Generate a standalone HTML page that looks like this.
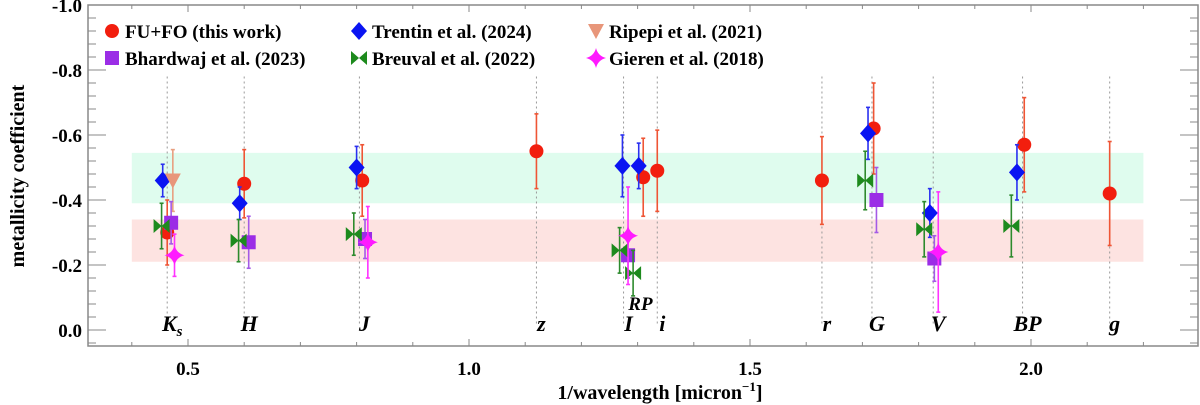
<!DOCTYPE html>
<html><head><meta charset="utf-8">
<style>
body{margin:0;background:#fff;}
svg{display:block;font-family:"Liberation Serif",serif;}
</style></head>
<body>
<svg id="chart" width="1200" height="405" xmlns="http://www.w3.org/2000/svg">
<g id="bands"></g>
<g id="vlines"></g>
<g id="axes"></g>
<g id="marks"></g>
<g id="legend"></g>
</svg>
<script>
const bandNames=["Ks","H","J","z","I","RP","i","r","G","V","BP","g"];
const bandX=[0.463,0.6,0.805,1.12,1.275,1.305,1.335,1.628,1.717,1.826,1.985,2.14];
const xTicks=[0.5,1.0,1.5,2.0];
const yTicks=[0.0,-0.2,-0.4,-0.6,-0.8,-1.0];
const fuX=[0.463,0.6,0.81,1.12,1.31,1.335,1.628,1.72,1.988,2.14];
const fuY=[-0.30,-0.45,-0.46,-0.55,-0.47,-0.49,-0.46,-0.62,-0.57,-0.42];
const fuE=[0.10,0.105,0.11,0.115,0.12,0.125,0.135,0.14,0.145,0.16];
const trX=[0.455,0.592,0.8,1.273,1.302,1.71,1.82,1.975];
const trY=[-0.46,-0.39,-0.50,-0.505,-0.505,-0.605,-0.36,-0.485];
const trE=[0.05,0.05,0.065,0.095,0.07,0.08,0.075,0.085];
const riX=[0.473];
const riY=[-0.46];
const riE=[0.095];
const bhX=[0.47,0.608,0.815,1.283,1.725,1.828];
const bhY=[-0.33,-0.27,-0.28,-0.23,-0.40,-0.22];
const bhE=[0.065,0.08,0.06,0.07,0.10,0.07];
const brX=[0.453,0.59,0.795,1.268,1.292,1.705,1.81,1.965];
const brY=[-0.32,-0.275,-0.295,-0.245,-0.175,-0.46,-0.31,-0.32];
const brE=[0.07,0.065,0.065,0.07,0.07,0.09,0.085,0.095];
const giX=[0.476,0.82,1.283,1.835];
const giY=[-0.23,-0.27,-0.29,-0.24];
const giE=[0.065,0.11,0.15,0.185];
const greenBand=[-0.39,-0.545];
const redBand=[-0.21,-0.34];

const L=88,R=1198,T=5,B=346;
const X=v=>188+(v-0.5)*562;
const Y=v=>330+v*325;
const NS="http://www.w3.org/2000/svg";
function mk(p,t,a){const e=document.createElementNS(NS,t);for(const k in a)e.setAttribute(k,a[k]);p.appendChild(e);return e;}
const g=id=>document.getElementById(id);

let b1=mk(g('bands'),'rect',{x:X(0.4),y:Y(greenBand[1]),width:X(2.2)-X(0.4),height:Y(greenBand[0])-Y(greenBand[1]),fill:'#dffcee'});


let b2=mk(g('bands'),'rect',{x:X(0.4),y:Y(redBand[1]),width:X(2.2)-X(0.4),height:Y(redBand[0])-Y(redBand[1]),fill:'#fde3e1'});



bandNames.forEach((n,i)=>{
  const x=X(bandX[i]);
  if(n!=="RP"){let l=mk(g('vlines'),'line',{x1:x,x2:x,y1:Y(-0.78),y2:Y(-0.02),stroke:'#999','stroke-width':1,'stroke-dasharray':'2,3'});
  
  }
  let t=mk(g('vlines'),'text',{x:x+(n==="RP"?0:5),y:n==="RP"?310:331,'text-anchor':'middle','font-size':n==="RP"?19:22,'font-weight':'bold','font-style':'italic'});
  
  
  if(n==="Ks"){t.textContent='K';const s=mk(t,'tspan',{'font-size':15,dy:5});s.textContent='s';}
  else t.textContent=n;
});

const ax=g('axes');
let fr=mk(ax,'rect',{x:L,y:T,width:R-L,height:B-T,fill:'none',stroke:'#888','stroke-width':1.5});


for(let k=2;k<=23;k++){const v=k*0.1;const x=X(v);if(x<L||x>R)continue;const maj=k%5===0;const len=maj?7:4;
  mk(ax,'line',{x1:x,x2:x,y1:B,y2:B-len,stroke:'#888'});mk(ax,'line',{x1:x,x2:x,y1:T,y2:T+len,stroke:'#888'});}
for(let k=-25;k<=2;k++){const v=k*0.04;const y=Y(v);if(y<T||y>B)continue;const maj=k%5===0;const len=maj?18:8;
  mk(ax,'line',{x1:L,x2:L+len,y1:y,y2:y,stroke:'#888'});mk(ax,'line',{x1:R,x2:R-len,y1:y,y2:y,stroke:'#888'});}
xTicks.forEach(v=>{let t=mk(ax,'text',{x:X(v),y:375,'text-anchor':'middle','font-size':19,'font-weight':'bold'});
  
  
  t.textContent=v.toFixed(1);});
yTicks.forEach(v=>{let t=mk(ax,'text',{x:L-6,y:Y(v)+7,'text-anchor':'end','font-size':19,'font-weight':'bold'});
  
  
  t.textContent=v.toFixed(1);});
let xt=mk(ax,'text',{x:660,y:399,'text-anchor':'middle','font-size':20,'font-weight':'bold'});


xt.textContent='1/wavelength [micron';
let sup=mk(xt,'tspan',{'font-size':13,dy:-8});sup.textContent='−1';
let cl=mk(xt,'tspan',{dy:8});cl.textContent=']';
let yt=mk(ax,'text',{x:0,y:0,transform:'translate(24,176) rotate(-90)','text-anchor':'middle','font-size':20,'font-weight':'bold'});


yt.textContent='metallicity coefficient';

function marker(p,type,x,y,col){
  if(type==='circle')return mk(p,'circle',{cx:x,cy:y,r:7,fill:col});
  if(type==='diamond')return mk(p,'polygon',{points:`${x},${y-9} ${x+8},${y} ${x},${y+9} ${x-8},${y}`,fill:col});
  if(type==='tri')return mk(p,'polygon',{points:`${x-8},${y-7} ${x+8},${y-7} ${x},${y+8}`,fill:col});
  if(type==='square')return mk(p,'rect',{x:x-7,y:y-7,width:14,height:14,fill:col});
  if(type==='bowtie')return mk(p,'polygon',{points:`${x-8},${y-7} ${x},${y} ${x+8},${y-7} ${x+8},${y+7} ${x},${y} ${x-8},${y+7}`,fill:col});
  if(type==='star')return mk(p,'path',{d:`M${x},${y-10} Q${x+2},${y-2} ${x+10},${y} Q${x+2},${y+2} ${x},${y+10} Q${x-2},${y+2} ${x-10},${y} Q${x-2},${y-2} ${x},${y-10}Z`,fill:col});
}
const series=[
 {name:'fu-fo',xs:fuX,ys:fuY,es:fuE,type:'circle',col:'#f21e0e',ecol:'#ef5535'},
 {name:'trentin',xs:trX,ys:trY,es:trE,type:'diamond',col:'#0a14f2',ecol:'#2a30f0'},
 {name:'ripepi',xs:riX,ys:riY,es:riE,type:'tri',col:'#e8967a',ecol:'#e8a080'},
 {name:'bhardwaj',xs:bhX,ys:bhY,es:bhE,type:'square',col:'#9b2de6',ecol:'#a45ae6'},
 {name:'breuval',xs:brX,ys:brY,es:brE,type:'bowtie',col:'#1d8a1d',ecol:'#2d8a2d'},
 {name:'gieren',xs:giX,ys:giY,es:giE,type:'star',col:'#ff1aff',ecol:'#ff33ff'}
];
series.forEach(s=>{
  const gg=mk(g('marks'),'g',{});
  
  
  s.xs.forEach((xv,i)=>{
    const x=X(xv),y1=Y(s.ys[i]-s.es[i]),y2=Y(s.ys[i]+s.es[i]);
    mk(gg,'line',{x1:x,x2:x,y1:y1,y2:y2,stroke:s.ecol,'stroke-width':1.6});
    mk(gg,'line',{x1:x-2,x2:x+2,y1:y1,y2:y1,stroke:s.ecol,'stroke-width':1.6});
    mk(gg,'line',{x1:x-2,x2:x+2,y1:y2,y2:y2,stroke:s.ecol,'stroke-width':1.6});
    const m=marker(gg,s.type,x,Y(s.ys[i]),s.col);
    
    
  });
});

const leg=[['circle','#f21e0e','FU+FO (this work)',112,31],['diamond','#0a14f2','Trentin et al. (2024)',359,31],['tri','#e8967a','Ripepi et al. (2021)',596,31],
['square','#9b2de6','Bhardwaj et al. (2023)',112,58],['bowtie','#1d8a1d','Breuval et al. (2022)',359,58],['star','#ff1aff','Gieren et al. (2018)',596,58]];
leg.forEach(l=>{
  const e=mk(g('legend'),'g',{});
  
  
  marker(e,l[0],l[3],l[4],l[1]);
  const t=mk(e,'text',{x:l[3]+13,y:l[4]+7,'font-size':19,'font-weight':'bold'});t.textContent=l[2];
});
</script>
</body></html>
